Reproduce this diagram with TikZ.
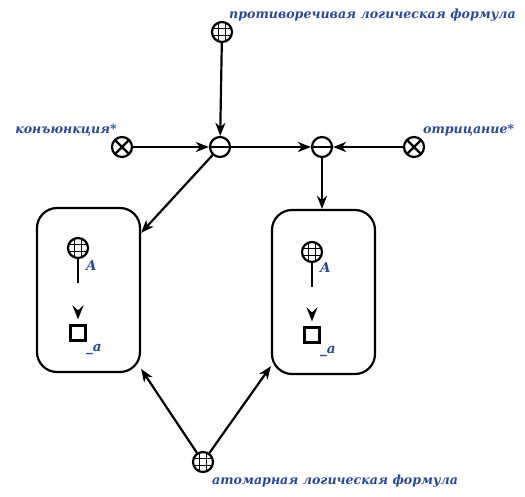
\documentclass[tikz,border=0pt]{standalone}
\usepackage{fontspec}
\newfontfamily\lblfont{DejaVu Serif}
\usetikzlibrary{arrows.meta}
\definecolor{lblblue}{RGB}{38,72,160}
\tikzset{
  sym/.style={circle,draw,line width=2.2pt,minimum size=20pt,inner sep=0pt},
  globe/.style={sym,path picture={
      \foreach \d in {-3.3,3.3}{
        \draw[line width=1.3pt]([xshift=\d pt]path picture bounding box.north)--([xshift=\d pt]path picture bounding box.south);
        \draw[line width=1.3pt]([yshift=\d pt]path picture bounding box.west)--([yshift=\d pt]path picture bounding box.east);}}},
  cross/.style={sym,path picture={
      \draw[line width=2.2pt](path picture bounding box.north west)--(path picture bounding box.south east);
      \draw[line width=2.2pt](path picture bounding box.north east)--(path picture bounding box.south west);}},
  minus/.style={sym,path picture={
      \draw[line width=2.2pt](path picture bounding box.west)--(path picture bounding box.east);}},
  sq/.style={draw,line width=2.2pt,minimum size=15pt,inner sep=0pt},
  frame/.style={draw,line width=2.2pt,rounded corners=20pt,minimum width=103pt,minimum height=164pt},
  lbl/.style={text=lblblue,inner sep=0pt,font=\lblfont\bfseries\itshape\fontsize{12.6}{15}\selectfont},
  sub/.style={text=lblblue,inner sep=0pt,font=\lblfont\bfseries\itshape\fontsize{13.5}{15}\selectfont},
  con/.style={line width=2.2pt,-{Stealth[length=13pt,width=10pt,inset=4pt]}},
  inner/.style={line width=2.2pt,-{Stealth[length=14pt,width=11pt,inset=5pt]},dash pattern=on 24pt off 100pt,shorten >=5pt}
}
\begin{document}
\begin{tikzpicture}[x=1pt,y=-1pt]
		\useasboundingbox (0,0) rectangle (525,496);
		% top and side inputs
		\node[globe](contra) at (222,32){};
		\node[lbl,anchor=base west](contraL) at (229,18){противоречивая логическая формула};
		\node[cross](conj) at (122,147){};
		\node[lbl,anchor=base east](conjL) at (117,133){конъюнкция*};
		\node[cross](neg) at (414,147){};
		\node[lbl,anchor=base west](negL) at (423,133){отрицание*};
		\node[minus](m1) at (220,147){};
		\node[minus](m2) at (322,147){};
		% boxes
		\node[frame](box1) at (88.5,290){};
		\node[globe](g1) at (78,248){};
		\node[sq](s1) at (78,333){};
		\node[sub,anchor=north west](A1) at (86,260){A};
		\node[sub,anchor=north west](a1) at (86,344){\_a};
		\node[frame](box2) at (323.5,292){};
		\node[globe](g2) at (312,252){};
		\node[sq](s2) at (312,335){};
		\node[sub,anchor=north west](A2) at (320,262){A};
		\node[sub,anchor=north west](a2) at (320,346){\_a};
		% bottom input
		\node[globe](atom) at (203,462){};
		\node[lbl,anchor=base west](atomL) at (212,484){атомарная логическая формула};
		% connectors
		\draw[con](contra)--(m1);
		\draw[con](conj)--(m1);
		\draw[con](m1)--(m2);
		\draw[con](neg)--(m2);
		\draw[con](m1)--(box1);
		\draw[con](m2)--(m2|-box2.north);
		\draw[con](atom)--(box1);
		\draw[con](atom)--(box2);
		\draw[inner](g1)--(s1);
		\draw[inner](g2)--(s2);
	    \end{tikzpicture}
\end{document}
